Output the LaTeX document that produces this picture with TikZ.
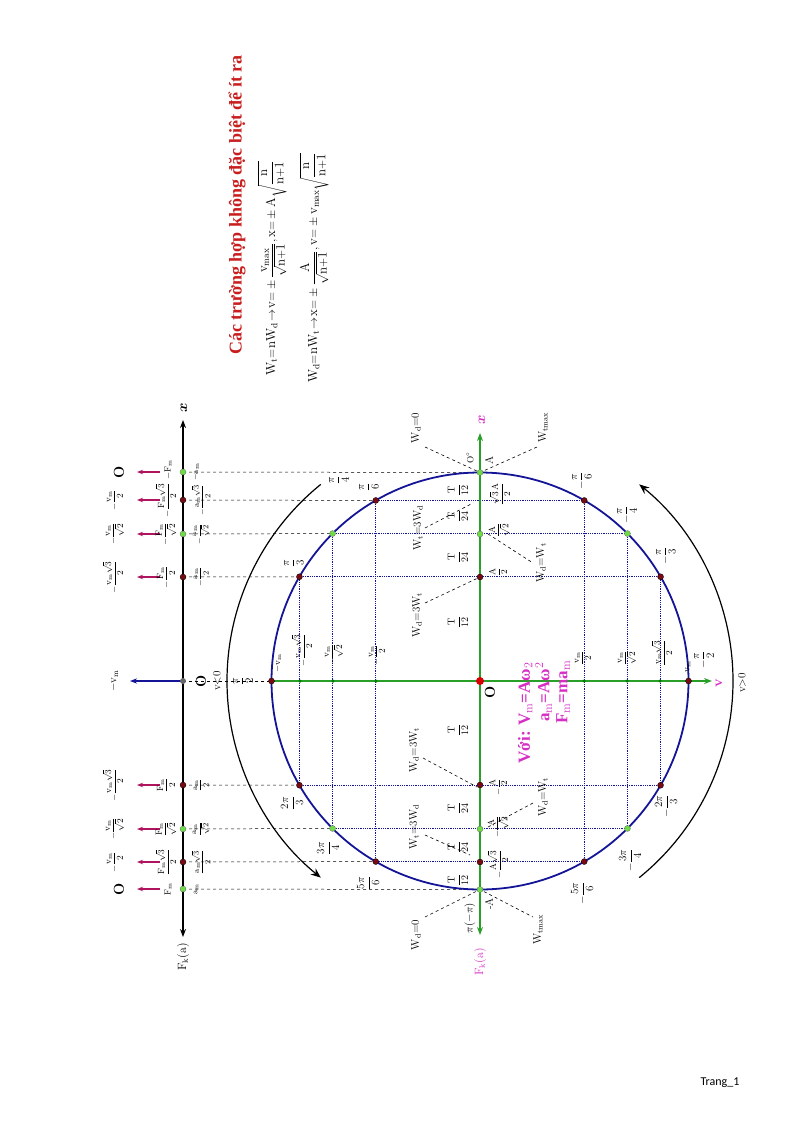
\documentclass[tikz,border=0pt]{standalone}
\usepackage{amsmath}
\usepackage{fontspec}
\newfontfamily\viet{Liberation Serif}
\newfontfamily\trang{Carlito}
\usetikzlibrary{arrows.meta}
\definecolor{circblue}{RGB}{20,20,150}
\definecolor{axgreen}{RGB}{40,160,40}
\definecolor{dred}{RGB}{120,10,20}
\definecolor{lgreen}{RGB}{110,220,70}
\definecolor{mag}{RGB}{214,47,196}
\definecolor{arrmag}{RGB}{175,20,95}
\definecolor{titred}{RGB}{200,30,30}
\newcommand{\fr}[2]{\dfrac{\mathrm{#1}}{\mathrm{#2}}}
\begin{document}
\begin{tikzpicture}[x=1pt,y=-1pt,
  lbl/.style={rotate=90,font=\fontsize{9}{10}\selectfont,inner sep=0.5pt},
  wl/.style={rotate=90,font=\fontsize{11}{12}\selectfont,inner sep=0.5pt},
  rdot/.style={circle,fill=dred,draw=black,line width=0.3pt,inner sep=0pt,minimum size=6pt},
  gdot/.style={circle,fill=lgreen,draw=black!60,line width=0.3pt,inner sep=0pt,minimum size=6pt},
  sdot/.style={circle,fill=black!50!green,inner sep=0pt,minimum size=3.5pt},
  dotl/.style={circblue,densely dotted,line width=0.8pt},
  dashl/.style={black,dashed,line width=0.5pt},
  wdash/.style={black,dashed,line width=0.6pt},
  marr/.style={arrmag,line width=1.5pt,-{Stealth[length=6pt]}}]
\useasboundingbox (0,0) rectangle (794,1123);
\def\r{208.5}
% circle points
\foreach \a/\n in {0/p0,30/p30,45/p45,60/p60,90/p90,120/p120,135/p135,150/p150,180/p180,-30/pm30,-45/pm45,-60/pm60,-90/pm90,-120/pm120,-135/pm135,-150/pm150}
  \coordinate (\n) at ({480-\r*sin(\a)},{681-\r*cos(\a)});
\coordinate (C) at (480,681);
% left axis points
\foreach \a/\y in {0/472,30/500,45/534,60/577,90/681,120/785,135/829,150/862,180/889}
  \coordinate (l\a) at (183,\y);
% dotted grid
\foreach \u/\v in {p30/pm30,p45/pm45,p60/pm60,p120/pm120,p135/pm135,p150/pm150,p60/p120,p45/p135,p30/p150,pm30/pm150,pm45/pm135,pm60/pm120}
  \draw[dotl] (\u) -- (\v);
% dashed to left axis
\foreach \a in {0,30,45,60,90,120,135,150,180}
  \draw[dashl] (l\a) -- (p\a);
% circle
\draw[circblue,line width=1.8pt] (C) circle[radius=\r];
% green axes
\coordinate (xt) at (480,433); \coordinate (xb) at (480,935); \coordinate (vr) at (712,681);
\draw[axgreen,line width=1.8pt,-{Stealth[length=8pt]}] (C) -- (xt);
\draw[axgreen,line width=1.8pt,-{Stealth[length=8pt]}] (C) -- (xb);
\draw[axgreen,line width=1.8pt,-{Stealth[length=8pt]}] (p90) -- (vr);
% left axis
\coordinate (lt) at (183,420); \coordinate (lb) at (183,937);
\draw[black,line width=1.3pt,-{Stealth[length=8pt]}] (l90) -- (lt);
\draw[black,line width=1.3pt,-{Stealth[length=8pt]}] (l90) -- (lb);
\node[font=\bfseries\itshape\Large,rotate=90] (lx) at (184,408) {$\boldsymbol{x}$};
\node[font=\fontsize{12}{13}\selectfont,rotate=90] (lfk) at (183,957) {$\mathrm{F_k(a)}$};
% blue arrow -vm
\coordinate (vmt) at (130,681);
\draw[circblue,line width=1.4pt,-{Stealth[length=7pt]}] (l90) -- (vmt);
\node[lbl,font=\fontsize{11}{12}\selectfont] (nvm) at (114,681) {$\mathrm{-v_m}$};
\node[rotate=90,font=\bfseries\Large] (lO) at (201,681) {O};
% magenta arrows and labels
\foreach \y in {472,500,534,577,785,829,862,889}{
  \coordinate (ms\y) at (160,\y); \coordinate (me\y) at (137,\y);
  \draw[marr] (ms\y) -- (me\y);}
\node[rotate=90,font=\bfseries\Large] (vO1) at (119,472) {O};
\node[rotate=90,font=\bfseries\Large] (vO2) at (119,889) {O};
\node[lbl] (v1) at (115,500) {$-\fr{v_m}{2}$};
\node[lbl] (v2) at (115,534) {$-\fr{v_m}{\sqrt{2}}$};
\node[lbl] (v3) at (113,577) {$-\fr{v_m\sqrt{3}}{2}$};
\node[lbl] (v4) at (113,785) {$-\fr{v_m\sqrt{3}}{2}$};
\node[lbl] (v5) at (115,829) {$-\fr{v_m}{\sqrt{2}}$};
\node[lbl] (v6) at (115,862) {$-\fr{v_m}{2}$};
% F labels
\node[lbl] (f1) at (168,470) {$\mathrm{-F_m}$};
\node[lbl] (f2) at (166,500) {$-\fr{F_m\sqrt{3}}{2}$};
\node[lbl] (f3) at (166,534) {$-\fr{F_m}{\sqrt{2}}$};
\node[lbl] (f4) at (166,577) {$-\fr{F_m}{2}$};
\node[lbl] (f5) at (166,785) {$\fr{F_m}{2}$};
\node[lbl] (f6) at (166,829) {$\fr{F_m}{\sqrt{2}}$};
\node[lbl] (f7) at (166,862) {$\fr{F_m\sqrt{3}}{2}$};
\node[lbl] (f8) at (168,889) {$\mathrm{F_m}$};
% a labels
\node[lbl,font=\fontsize{8}{9}\selectfont] (a1) at (196,472) {$\mathrm{-a_m}$};
\node[lbl,font=\fontsize{8}{9}\selectfont] (a2) at (201,500) {$-\fr{a_m\sqrt{3}}{2}$};
\node[lbl,font=\fontsize{8}{9}\selectfont] (a3) at (201,534) {$-\fr{a_m}{\sqrt{2}}$};
\node[lbl,font=\fontsize{8}{9}\selectfont] (a4) at (201,577) {$-\fr{a_m}{2}$};
\node[lbl,font=\fontsize{8}{9}\selectfont] (a5) at (201,785) {$\fr{a_m}{2}$};
\node[lbl,font=\fontsize{8}{9}\selectfont] (a6) at (201,829) {$\fr{a_m}{\sqrt{2}}$};
\node[lbl,font=\fontsize{8}{9}\selectfont] (a7) at (201,862) {$\fr{a_m\sqrt{3}}{2}$};
\node[lbl,font=\fontsize{8}{9}\selectfont] (a8) at (196,889) {$\mathrm{a_m}$};
% left axis dots
\foreach \a in {0,45,135,180} \node[gdot] at (l\a) {};
\foreach \a in {30,60,120,150} \node[rdot] at (l\a) {};
\node[circle,fill=black!60,inner sep=0pt,minimum size=6pt] at (l90) {};
% W dashed lines
\coordinate (w1) at (425,447); \coordinate (w2) at (537,447);
\coordinate (w3) at (425,917); \coordinate (w4) at (533,917);
\draw[wdash] (w1) -- (p0) -- (w2);
\draw[wdash] (w3) -- (p180) -- (w4);
\coordinate (w5a) at (425,528); \coordinate (w5b) at (473,503); \draw[wdash] (w5a) -- (w5b);
\coordinate (w6a) at (488,534); \coordinate (w6b) at (533,563); \draw[wdash] (w6a) -- (w6b);
\coordinate (w7a) at (425,603); \coordinate (w7b) at (478,578); \draw[wdash] (w7a) -- (w7b);
\coordinate (w8a) at (423,758); \coordinate (w8b) at (477,787); \draw[wdash] (w8a) -- (w8b);
\coordinate (w9a) at (425,835); \coordinate (w9b) at (470,855); \draw[wdash] (w9a) -- (w9b);
\coordinate (w10a) at (488,827); \coordinate (w10b) at (533,803); \draw[wdash] (w10a) -- (w10b);
\node[wl] (wd0t) at (416,428) {$\mathrm{W_d{=}0}$};
\node[wl] (wtmt) at (543,428) {$\mathrm{W_{tmax}}$};
\node[wl] (wd0b) at (416,935) {$\mathrm{W_d{=}0}$};
\node[wl] (wtmb) at (538,930) {$\mathrm{W_{tmax}}$};
\node[wl] (wa) at (418,528) {$\mathrm{W_t{=}3W_d}$};
\node[wl] (wb) at (541,563) {$\mathrm{W_d{=}W_t}$};
\node[wl] (wc) at (417,615) {$\mathrm{W_d{=}3W_t}$};
\node[wl] (wd) at (414,750) {$\mathrm{W_d{=}3W_t}$};
\node[wl] (we) at (414,827) {$\mathrm{W_t{=}3W_d}$};
\node[wl] (wf) at (543,797) {$\mathrm{W_d{=}W_t}$};
% T labels
\foreach \y/\d in {490/12,516/24,557/24,622/12,730/12,808/24,847/24,880/12}
  \node[wl,font=\fontsize{10}{11}\selectfont] at (458,\y) {$\fr{T}{\d}$};
% green axis labels
\node[lbl] at (470,458) {O$^\circ$};
\node[wl] at (489,460) {A};
\node[lbl] at (500,494) {$\fr{\sqrt{3}\,A}{2}$};
\node[lbl] at (499,530) {$\fr{A}{\sqrt{2}}$};
\node[lbl] at (498,572) {$\fr{A}{2}$};
\node[lbl] at (498,787) {$-\fr{A}{2}$};
\node[lbl] at (498,827) {$-\fr{A}{\sqrt{2}}$};
\node[lbl] at (498,864) {$-\fr{A\sqrt{3}}{2}$};
\node[wl] at (489,904) {-A};
\node[wl] at (470,918) {$\pi(-\pi)$};
\node[rotate=90,font=\bfseries\Large] at (490,692) {O};
\node[rotate=90,mag,font=\bfseries\Large] at (482,420) {$\boldsymbol{x}$};
\node[rotate=90,mag,font=\fontsize{12}{13}\selectfont] at (480,962) {$\mathrm{F_k(a)}$};
\node[rotate=90,mag,font=\bfseries\Large] at (719,683) {v};
% v labels on horizontal axis
\node[lbl] at (278,663) {$\mathrm{-v_m}$};
\node[lbl] at (302,650) {$-\fr{v_m\sqrt{3}}{2}$};
\node[lbl] at (334,655) {$-\fr{v_m}{\sqrt{2}}$};
\node[lbl] at (377,655) {$-\fr{v_m}{2}$};
\node[lbl] at (583,658) {$\fr{v_m}{2}$};
\node[lbl] at (627,658) {$\fr{v_m}{\sqrt{2}}$};
\node[lbl] at (662,653) {$\fr{v_m\sqrt{3}}{2}$};
\node[lbl] at (688,667) {$\mathrm{v_m}$};
% angle labels
\node[wl] at (243,681) {$\fr{\pi}{2}$};
\node[wl] at (217,681) {v$<$0};
\node[wl] at (742,683) {v$>$0};
\node[wl] at (294,563) {$\fr{\pi}{3}$};
\node[wl] at (339,480) {$\fr{\pi}{4}$};
\node[wl] at (369,487) {$\fr{\pi}{6}$};
\node[wl] at (582,481) {$-\fr{\pi}{6}$};
\node[wl] at (627,515) {$-\fr{\pi}{4}$};
\node[wl] at (666,556) {$-\fr{\pi}{3}$};
\node[wl] at (704,660) {$-\fr{\pi}{2}$};
\node[wl] at (292,803) {$\fr{2\pi}{3}$};
\node[wl] at (328,848) {$\fr{3\pi}{4}$};
\node[wl] at (368,883) {$\fr{5\pi}{6}$};
\node[wl] at (666,806) {$-\fr{2\pi}{3}$};
\node[wl] at (630,860) {$-\fr{3\pi}{4}$};
\node[wl] at (582,893) {$-\fr{5\pi}{6}$};
% dots on circle and axes
\foreach \n in {p30,p60,p90,p120,p150,pm30,pm60,pm90,pm120,pm150} \node[rdot] at (\n) {};
\foreach \n in {p45,p135,pm45,pm135,p0,p180} \node[gdot] at (\n) {};
\foreach \x in {300,333,376,584,627,660} \node[sdot] at (\x,681) {};
\foreach \y in {577,785,862} \node[rdot] at (480,\y) {};
\foreach \y in {534,829} \node[gdot] at (480,\y) {};
\node[circle,fill=red!85!black,inner sep=0pt,minimum size=8pt] at (C) {};
% big arcs
\draw[black,line width=1.2pt,-{Stealth[length=10pt,width=8pt]}] (C) ++(231:253) arc[start angle=231,end angle=129,radius=253];
\draw[black,line width=1.2pt,-{Stealth[length=10pt,width=8pt]}] (C) ++(51:253) arc[start angle=51,end angle=-51,radius=253];
% Voi block
\node[rotate=90,mag,font=\viet\bfseries\fontsize{17}{18}\selectfont,inner sep=0pt] (voi) at (545,712) {\begin{tabular}{@{}r@{}l@{}}Với: V$_\mathrm{m}$&=Aω$_2$\\ a$_\mathrm{m}$&=Aω$^2$\\ F$_\mathrm{m}$&=ma$_\mathrm{m}$\end{tabular}};
% title and formulas
\node[rotate=90,titred,font=\viet\bfseries\fontsize{18}{20}\selectfont] (tit) at (237,205) {Các trường hợp không đặc biệt để ít ra};
\node[rotate=90,font=\fontsize{13}{15}\selectfont] (fm1) at (272,268) {$\mathrm{W_t{=}nW_d}\!\rightarrow\!\mathrm{v}{=}\pm\dfrac{\mathrm{v_{max}}}{\sqrt{\mathrm{n{+}1}}},\mathrm{x}{=}\pm\mathrm{A}\sqrt{\dfrac{\mathrm{n}}{\mathrm{n{+}1}}}$};
\node[rotate=90,font=\fontsize{13}{15}\selectfont] (fm2) at (314,268) {$\mathrm{W_d{=}nW_t}\!\rightarrow\!\mathrm{x}{=}\pm\dfrac{\mathrm{A}}{\sqrt{\mathrm{n{+}1}}},\mathrm{v}{=}\pm\mathrm{v_{max}}\sqrt{\dfrac{\mathrm{n}}{\mathrm{n{+}1}}}$};
\node[font=\trang\fontsize{12}{14}\selectfont] (pg) at (720,1083) {Trang\_1};
\end{tikzpicture}
\end{document}
